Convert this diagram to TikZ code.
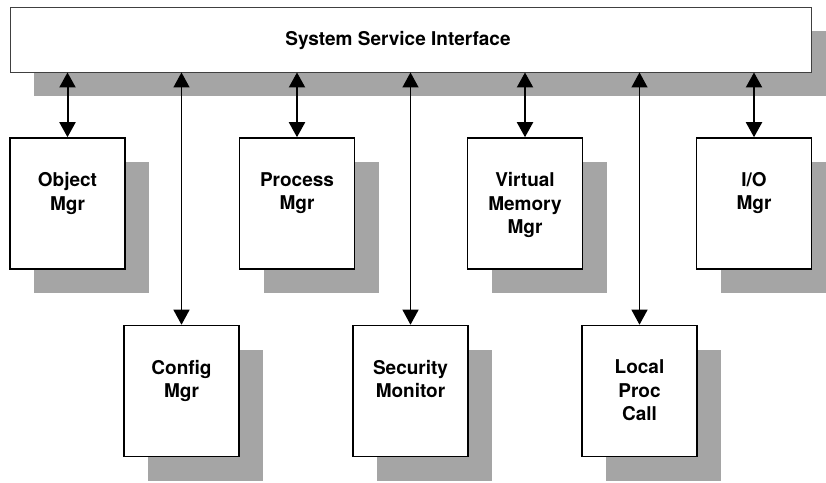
\documentclass[tikz,border=0pt]{standalone}
\usepackage{fontspec}
\setmainfont{TeX Gyre Heros}
\usetikzlibrary{arrows.meta,shadows}
\definecolor{shadowgray}{RGB}{165,165,165}
\tikzset{
  mgrbox/.style={draw=black, line width=1.6pt, fill=white, minimum width=115pt,
    minimum height=131pt, inner sep=0pt,
    drop shadow={shadow xshift=24pt, shadow yshift=-24pt, fill=shadowgray, opacity=1}},
  barbox/.style={draw=black!75, line width=0.9pt, fill=white, minimum width=801pt,
    minimum height=65pt, inner sep=0pt,
    drop shadow={shadow xshift=24pt, shadow yshift=-24pt, fill=shadowgray, opacity=1}},
  lbl/.style={font=\fontsize{19}{23.5}\selectfont\bfseries, align=center, inner sep=0pt, anchor=north},
  ttl/.style={font=\fontsize{19}{23}\selectfont\bfseries, inner sep=0pt},
  tip/.tip={Triangle[width=16pt,length=15pt]},
  shortarr/.style={tip-tip, line width=2pt},
  longarr/.style={tip-tip, line width=1.3pt},
}
\begin{document}
\begin{tikzpicture}[x=1pt,y=-1pt]
\clip (0,0) rectangle (826,482);
\fill[white] (0,0) rectangle (826,482);
% bar
\node[barbox] (ssi) at (410.5,39.5) {};
\node[ttl] (ssiT) at (398,40.5) {System Service Interface};
% top row
\node[mgrbox] (obj) at (67.5,203.5) {};
\node[mgrbox] (proc) at (297,203.5) {};
\node[mgrbox] (vm) at (525,203.5) {};
\node[mgrbox] (io) at (754,203.5) {};
% bottom row
\node[mgrbox] (cfg) at (181.5,391) {};
\node[mgrbox] (sec) at (410.5,391) {};
\node[mgrbox] (lpc) at (639.5,391) {};
% labels
\node[lbl] (objL) at ([yshift=-35pt]obj.north) {Object\\Mgr};
\node[lbl] (procL) at ([yshift=-35pt]proc.north) {Process\\Mgr};
\node[lbl] (vmL) at ([yshift=-35pt]vm.north) {Virtual\\Memory\\Mgr};
\node[lbl] (ioL) at ([yshift=-35pt]io.north) {I/O\\Mgr};
\node[lbl] (cfgL) at ([yshift=-35pt]cfg.north) {Config\\Mgr};
\node[lbl] (secL) at ([yshift=-35pt]sec.north) {Security\\Monitor};
\node[lbl] (lpcL) at ([yshift=-35pt]lpc.north) {Local\\Proc\\Call};
% connectors
\draw[shortarr] (obj.north) -- (obj.north |- ssi.south);
\draw[shortarr] (proc.north) -- (proc.north |- ssi.south);
\draw[shortarr] (vm.north) -- (vm.north |- ssi.south);
\draw[shortarr] (io.north) -- (io.north |- ssi.south);
\draw[longarr] (cfg.north) -- (cfg.north |- ssi.south);
\draw[longarr] (sec.north) -- (sec.north |- ssi.south);
\draw[longarr] (lpc.north) -- (lpc.north |- ssi.south);
\end{tikzpicture}
\end{document}
